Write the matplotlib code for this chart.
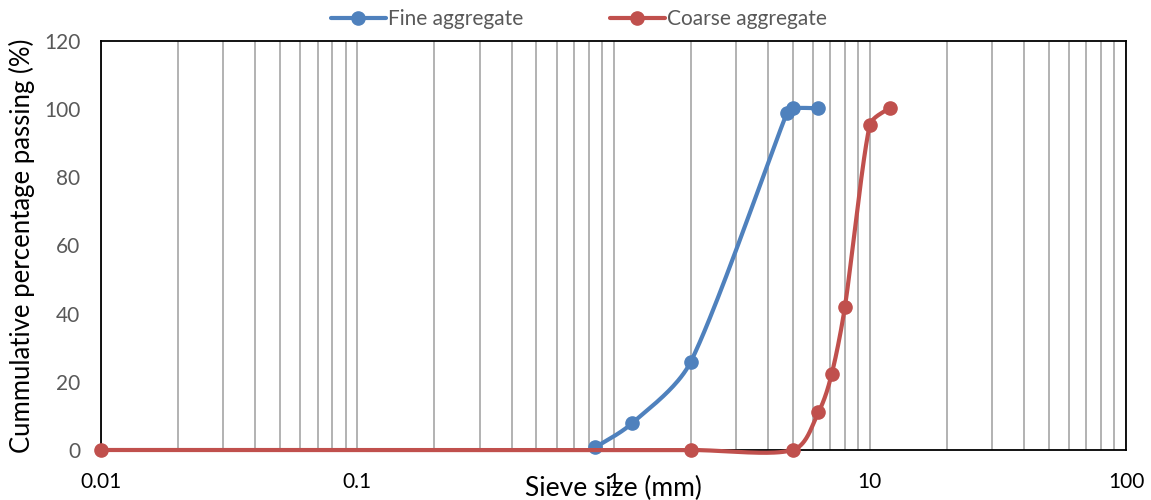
import numpy as np
import matplotlib
matplotlib.use("Agg")
import matplotlib.pyplot as plt
from matplotlib.ticker import FixedLocator, NullFormatter, FixedFormatter

plt.rcParams['font.family'] = ['Lato', 'DejaVu Sans']

# Data
fine_x = [0.85, 1.18, 2.0, 4.75, 5.0, 6.3]
fine_y = [0.8, 7.8, 25.8, 98.8, 100.2, 100.2]
coarse_x = [0.01, 2.0, 5.0, 6.3, 7.1, 8.0, 10.0, 12.0]
coarse_y = [0.0, 0.0, 0.0, 11.0, 22.2, 42.0, 95.2, 100.3]
x_ticks = [0.01, 0.1, 1, 10, 100]
x_tick_labels = ["0.01", "0.1", "1", "10", "100"]
y_ticks = [0, 20, 40, 60, 80, 100, 120]

BLUE = "#4f81bd"
RED = "#c0504d"

# approximate screen scaling (px per decade, px per unit y) for smoothing
SX, SY = 256.25, 409.3 / 120.0


def smooth(xs, ys, n=40):
    P = np.column_stack([np.log10(xs) * SX, np.asarray(ys, float) * SY])
    m = len(P)
    out = [P[0]]
    t = np.linspace(0, 1, n)[1:, None]

    def clamp(v, lim):
        L = np.linalg.norm(v)
        if L > lim and L > 0:
            return v * lim / L
        return v

    for i in range(m - 1):
        seg_len = np.linalg.norm(P[i + 1] - P[i])
        p0 = P[i - 1] if i > 0 else P[i]
        p3 = P[i + 2] if i + 2 < m else P[i + 1]
        c1 = P[i] + clamp((P[i + 1] - p0) / 6.0, seg_len / 3.0)
        c2 = P[i + 1] - clamp((p3 - P[i]) / 6.0, seg_len / 3.0)
        seg = ((1 - t) ** 3) * P[i] + 3 * ((1 - t) ** 2) * t * c1 + 3 * (1 - t) * t ** 2 * c2 + t ** 3 * P[i + 1]
        out.extend(seg)
    out = np.array(out)
    return 10 ** (out[:, 0] / SX), out[:, 1] / SY


fig = plt.figure(figsize=(11.51, 5.0), dpi=100)
ax = fig.add_axes([101 / 1151, 0.1, (1126 - 101) / 1151, 0.9186 - 0.1])
ax.set_xscale('log')
ax.set_xlim(0.01, 100)
ax.set_ylim(0, 120)

ax.xaxis.set_major_locator(FixedLocator(x_ticks))
ax.xaxis.set_major_formatter(FixedFormatter(x_tick_labels))
minors = [k * 10.0 ** e for e in range(-2, 2) for k in range(2, 10)]
ax.xaxis.set_minor_locator(FixedLocator(minors))
ax.xaxis.set_minor_formatter(NullFormatter())
ax.grid(True, which='both', axis='x', color='#a6a6a6', linewidth=1.2, zorder=0)
ax.set_axisbelow(True)

ax.set_yticks(y_ticks)
ax.tick_params(axis='both', which='both', length=0)
ax.tick_params(axis='y', labelsize=15, labelcolor='#595959', pad=15)
ax.tick_params(axis='x', labelsize=15, labelcolor='black', pad=16)

for s in ax.spines.values():
    s.set_color('black')
    s.set_linewidth(1.3)

fx, fy = smooth(fine_x, fine_y)
cx, cy = smooth(coarse_x, coarse_y)
ax.plot(fx, fy, color=BLUE, linewidth=3, zorder=3, solid_capstyle='round', clip_on=False)
ax.plot(fine_x, fine_y, 'o', color=BLUE, markersize=9.5, zorder=4, clip_on=False)
ax.plot(cx, cy, color=RED, linewidth=3, zorder=5, solid_capstyle='round', clip_on=False)
ax.plot(coarse_x, coarse_y, 'o', color=RED, markersize=9.5, zorder=6, clip_on=False)

h1, = ax.plot([], [], '-o', color=BLUE, linewidth=3, markersize=9.5, solid_capstyle='round')
h2, = ax.plot([], [], '-o', color=RED, linewidth=3, markersize=9.5, solid_capstyle='round')
leg = fig.legend([h1, h2], ["Fine aggregate", "Coarse aggregate"], loc='center',
                 bbox_to_anchor=(0.503, 0.962), ncol=2, frameon=False, fontsize=15,
                 handlelength=2.6, handletextpad=0.1, columnspacing=4.2, labelcolor='#595959')

ax.set_ylabel("Cummulative percentage passing (%)", fontsize=18.5, color='black', labelpad=6)
ax.set_xlabel("Sieve size (mm)", fontsize=19, color='black', labelpad=-12)

fig.savefig("out.png", dpi=100)
